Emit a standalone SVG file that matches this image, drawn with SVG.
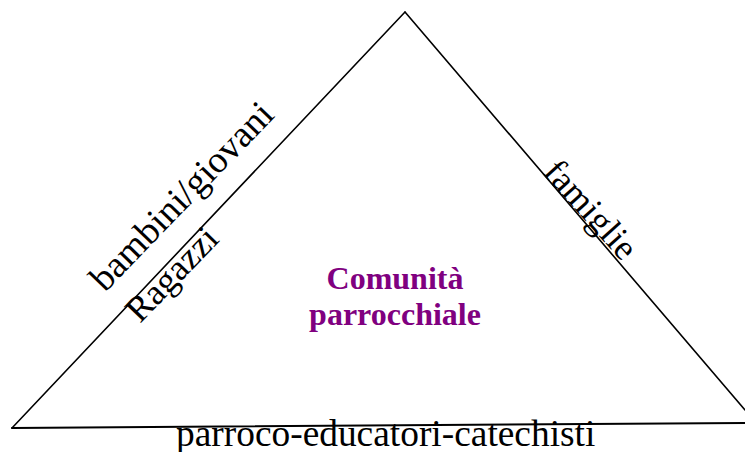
<svg xmlns="http://www.w3.org/2000/svg" width="745" height="452" viewBox="0 0 745 452">
<style>
.edge{stroke:#000;stroke-width:1.6;fill:none;stroke-linecap:round}
.lbl{font-family:"Liberation Serif","Times New Roman",serif;font-size:36px;fill:#000}
.ctr{font-family:"Liberation Serif","Times New Roman",serif;font-size:32px;font-weight:bold;fill:#800080;text-anchor:middle}
</style>
<rect width="745" height="452" fill="#fff"/>
<g id="connectors">
<line class="edge" x1="405" y1="12" x2="12" y2="428"/>
<line class="edge" x1="405" y1="12" x2="745" y2="410"/>
<line class="edge" x1="12" y1="428" x2="746" y2="423" style="stroke-width:2"/>
</g>
<g id="node-bambini">
<text class="lbl" style="font-size:37.5px" transform="translate(105,293) rotate(-46)">bambini/giovani</text>
</g>
<g id="node-ragazzi">
<text class="lbl" transform="translate(140,324) rotate(-46)">Ragazzi</text>
</g>
<g id="node-famiglie">
<text class="lbl" transform="translate(542,173) rotate(48)">famiglie</text>
</g>
<g id="node-base">
<text class="lbl" style="font-size:37.4px" x="176" y="446">parroco-educatori-catechisti</text>
</g>
<g id="node-center">
<text class="ctr" x="395" y="289">Comunità</text>
<text class="ctr" x="395" y="325">parrocchiale</text>
</g>
</svg>
